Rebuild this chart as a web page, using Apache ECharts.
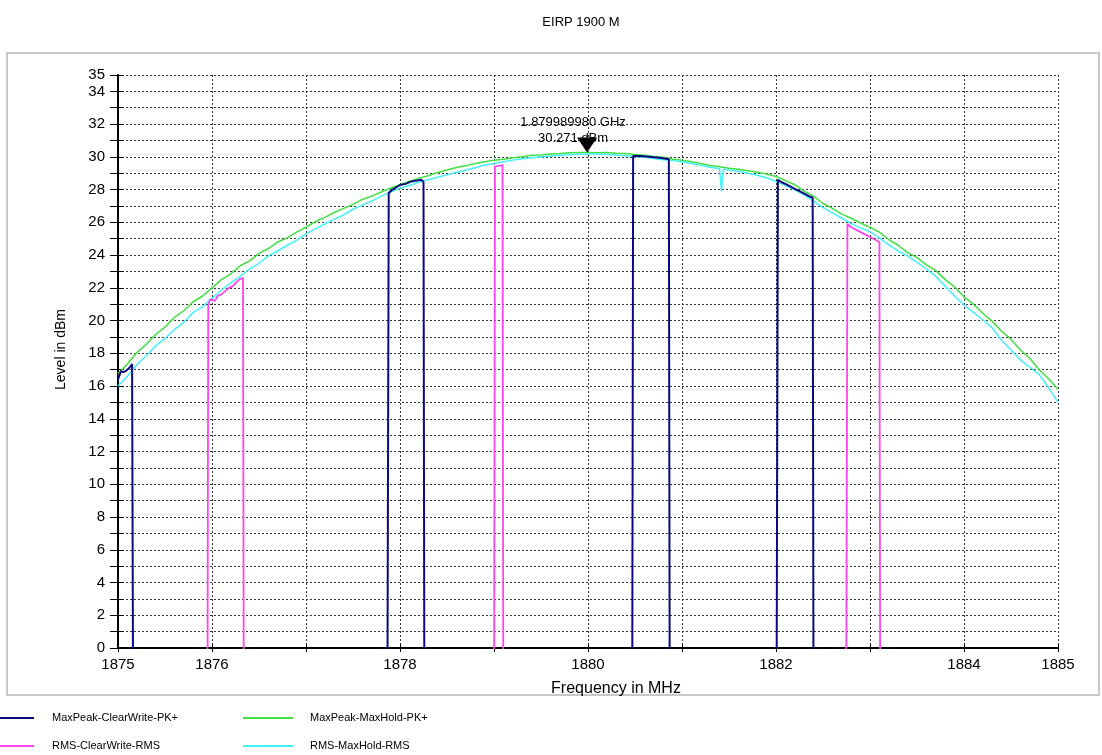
<!DOCTYPE html>
<html>
<head>
<meta charset="utf-8">
<script src="https://cdn.jsdelivr.net/npm/echarts@6/dist/echarts.min.js"></script>
<style>
html,body{margin:0;padding:0;background:#fff;}
#chart{width:1102px;height:755px;}
</style>
</head>
<body>
<div id="chart"></div>
<script>
// ---------- data ----------
const titleText = 'EIRP 1900 M';
const xTickLabels = [1875, 1876, 1878, 1880, 1882, 1884, 1885];
const yTickLabels = [0, 2, 4, 6, 8, 10, 12, 14, 16, 18, 20, 22, 24, 26, 28, 30, 32, 34, 35];
const seriesNames = ['MaxPeak-ClearWrite-PK+', 'MaxPeak-MaxHold-PK+', 'RMS-ClearWrite-RMS', 'RMS-MaxHold-RMS'];
const markerFreq = 1879.98998;
const markerLevel = 30.271;
const markerLabel = ['1.879989980 GHz', '30.271 dBm'];

// MaxPeak-MaxHold-PK+ [MHz, dBm]
const maxPeakMaxHold = [
 [1875.0,16.75],[1875.1,17.35],[1875.2,18.05],[1875.3,18.55],[1875.4,19.15],[1875.5,19.6],[1875.6,20.2],[1875.7,20.6],[1875.8,21.15],[1875.9,21.5],
 [1876.0,22.0],[1876.1,22.5],[1876.2,22.85],[1876.3,23.35],[1876.4,23.65],[1876.5,24.1],[1876.6,24.4],[1876.7,24.8],[1876.8,25.05],[1876.9,25.4],
 [1877.0,25.7],[1877.1,26.05],[1877.2,26.3],[1877.3,26.6],[1877.4,26.85],[1877.5,27.1],[1877.6,27.4],[1877.7,27.6],[1877.8,27.85],[1877.9,28.1],
 [1878.0,28.3],[1878.1,28.5],[1878.2,28.7],[1878.3,28.85],[1878.4,29.05],[1878.5,29.2],[1878.6,29.35],[1878.7,29.45],[1878.8,29.6],[1878.9,29.7],
 [1879.0,29.8],[1879.1,29.85],[1879.2,29.95],[1879.3,30.0],[1879.4,30.1],[1879.5,30.12],[1879.6,30.18],[1879.7,30.2],[1879.8,30.25],[1879.9,30.26],
 [1880.0,30.27],[1880.1,30.25],[1880.2,30.26],[1880.3,30.22],[1880.4,30.2],[1880.5,30.14],[1880.6,30.1],[1880.7,30.02],[1880.8,29.97],[1880.9,29.86],
 [1881.0,29.8],[1881.1,29.7],[1881.2,29.6],[1881.3,29.47],[1881.4,29.4],[1881.5,29.3],[1881.6,29.24],[1881.7,29.15],[1881.8,29.06],[1881.9,28.95],
 [1882.0,28.8],[1882.1,28.55],[1882.2,28.3],[1882.3,27.9],[1882.4,27.6],[1882.5,27.15],[1882.6,26.85],[1882.7,26.5],[1882.8,26.25],[1882.9,25.95],
 [1883.0,25.7],[1883.1,25.4],[1883.2,24.95],[1883.3,24.6],[1883.4,24.15],[1883.5,23.85],[1883.6,23.4],[1883.7,23.05],[1883.8,22.5],[1883.9,22.05],
 [1884.0,21.45],[1884.1,21.0],[1884.2,20.45],[1884.3,19.95],[1884.4,19.35],[1884.5,18.85],[1884.6,18.2],[1884.7,17.7],[1884.8,17.0],[1884.9,16.45],
 [1885.0,15.8]
];

// RMS-MaxHold-RMS [MHz, dBm]
const rmsMaxHold = [
 [1875.0,16.0],[1875.1,16.6],[1875.2,17.3],[1875.3,17.85],[1875.4,18.45],[1875.5,18.9],[1875.6,19.45],[1875.7,19.9],[1875.8,20.5],[1875.9,20.85],
 [1876.0,21.36],[1876.1,21.85],[1876.2,22.3],[1876.3,22.7],[1876.4,23.15],[1876.5,23.5],[1876.6,23.95],[1876.7,24.25],[1876.8,24.6],[1876.9,24.9],
 [1877.0,25.3],[1877.1,25.6],[1877.2,25.9],[1877.3,26.2],[1877.4,26.45],[1877.5,26.8],[1877.6,27.05],[1877.7,27.3],[1877.8,27.6],[1877.9,27.85],
 [1878.0,28.08],[1878.1,28.25],[1878.2,28.45],[1878.3,28.6],[1878.4,28.75],[1878.5,28.9],[1878.6,29.05],[1878.7,29.2],[1878.8,29.33],[1878.9,29.5],
 [1879.0,29.6],[1879.1,29.7],[1879.2,29.8],[1879.3,29.88],[1879.4,29.95],[1879.5,30.0],[1879.6,30.05],[1879.7,30.1],[1879.8,30.13],[1879.9,30.16],
 [1880.0,30.18],[1880.1,30.17],[1880.2,30.15],[1880.3,30.12],[1880.4,30.07],[1880.5,30.02],[1880.6,29.97],[1880.7,29.9],[1880.8,29.83],[1880.9,29.77],
 [1881.0,29.7],[1881.1,29.6],[1881.2,29.48],[1881.3,29.36],[1881.4,29.28],[1881.42,27.9],[1881.44,29.25],[1881.5,29.2],[1881.6,29.12],[1881.7,29.0],[1881.8,28.88],[1881.9,28.72],
 [1882.0,28.5],[1882.1,28.25],[1882.2,27.98],[1882.3,27.68],[1882.4,27.3],[1882.5,26.9],[1882.6,26.58],[1882.7,26.25],[1882.8,25.92],[1882.9,25.65],
 [1883.0,25.43],[1883.1,25.05],[1883.2,24.62],[1883.3,24.25],[1883.4,23.95],[1883.5,23.55],[1883.6,23.15],[1883.7,22.7],[1883.8,22.1],[1883.9,21.5],
 [1884.0,20.95],[1884.1,20.5],[1884.2,20.05],[1884.3,19.55],[1884.4,18.8],[1884.5,18.2],[1884.6,17.6],[1884.7,17.15],[1884.8,16.7],[1884.9,15.9],
 [1885.0,15.0]
];

// MaxPeak-ClearWrite-PK+ (far below the axis between bursts)
const maxPeakClearWrite = [
 [1875.0,16.4],[1875.03,16.9],[1875.06,16.85],[1875.09,16.95],[1875.12,17.1],[1875.15,17.35],[1875.16,17.3],[1875.18,-40],
 [1877.85,-40],[1877.88,27.8],[1877.92,28.0],[1878.0,28.28],[1878.06,28.35],[1878.12,28.5],[1878.18,28.55],[1878.23,28.6],[1878.25,28.45],[1878.27,-40],
 [1880.46,-40],[1880.48,30.05],[1880.55,30.05],[1880.62,30.02],[1880.7,29.98],[1880.78,29.93],[1880.86,29.85],[1880.88,-40],
 [1881.99,-40],[1882.02,28.6],[1882.06,28.45],[1882.1,28.35],[1882.15,28.2],[1882.2,28.05],[1882.25,27.9],[1882.3,27.75],[1882.35,27.6],[1882.39,27.5],[1882.41,-40],
 [1885.0,-40]
];

// RMS-ClearWrite-RMS (far below the axis between bursts)
const rmsClearWrite = [
 [1875.0,-40],[1875.94,-40],[1875.96,20.9],[1875.98,21.3],[1876.0,21.4],[1876.03,21.2],[1876.06,21.5],[1876.1,21.6],[1876.14,21.8],[1876.18,22.0],[1876.22,22.1],[1876.26,22.35],[1876.3,22.55],[1876.33,22.6],[1876.35,-40],
 [1878.99,-40],[1879.01,29.4],[1879.05,29.45],[1879.09,29.5],[1879.11,-40],
 [1882.73,-40],[1882.76,25.9],[1882.8,25.7],[1882.85,25.55],[1882.9,25.4],[1882.95,25.25],[1883.0,25.1],[1883.05,24.95],[1883.1,24.8],[1883.12,-40],
 [1885.0,-40]
];

// ---------- chart ----------
const FONT = "'Liberation Sans', Arial, sans-serif";
const colors = {navy:'#0a0a80', green:'#40e040', magenta:'#ff44f0', cyan:'#44f0ff'};
const dotted = {type:[2,2], color:'#333', width:1};

const chart = echarts.init(document.getElementById('chart'), null, {renderer:'canvas'});
const legendBase = {orient:'vertical', top:711, itemWidth:50, itemHeight:2, itemGap:14, icon:'rect',
  selectedMode:false, padding:0, height:60};
const option = {
  animation:false,
  backgroundColor:'#fff',
  textStyle:{fontFamily:FONT},
  title:{text:titleText, left:576, top:11, textAlign:'center',
    textStyle:{fontSize:13, fontWeight:'normal', color:'#000', fontFamily:FONT}},
  graphic:[{type:'rect', z:-1, silent:true, shape:{x:7, y:53, width:1092, height:642},
    style:{fill:'none', stroke:'#c8c8c8', lineWidth:2}}],
  grid:{left:118, right:44, top:75, bottom:107, containLabel:false},
  legend:[
    Object.assign({}, legendBase, {data:[seriesNames[0], seriesNames[2]], left:-16,
     textStyle:{fontSize:11, color:'#000', lineHeight:14, padding:[0,0,0,13], fontFamily:FONT}}),
    Object.assign({}, legendBase, {data:[seriesNames[1], seriesNames[3]], left:243,
     textStyle:{fontSize:11, color:'#000', lineHeight:14, padding:[0,0,0,12], fontFamily:FONT}})
  ],
  xAxis:[
    {type:'value', min:1875, max:1885, interval:1,
     name:'Frequency in MHz', nameLocation:'middle', nameGap:33,
     nameTextStyle:{fontSize:16, color:'#000', padding:[0,0,0,56], fontFamily:FONT},
     axisLine:{show:true, onZero:false, lineStyle:{color:'#000', width:2}},
     axisTick:{show:true, length:4, lineStyle:{color:'#000', width:1}},
     axisLabel:{fontSize:15, color:'#000', margin:9, fontFamily:FONT,
       formatter:v => xTickLabels.indexOf(v) >= 0 ? String(v) : ''},
     splitLine:{show:true, lineStyle:dotted}},
    {type:'value', min:1875, max:1885, interval:1, position:'bottom',
     axisLine:{show:false, onZero:false}, axisTick:{show:true, inside:true, length:4, lineStyle:{color:'#000'}},
     axisLabel:{show:false}, splitLine:{show:false}}
  ],
  yAxis:[
    {type:'value', min:0, max:35, interval:1,
     name:'Level in dBm', nameLocation:'middle', nameGap:50,
     nameTextStyle:{fontSize:14, color:'#000', padding:[0,0,0,24],
       fontFamily:"'Liberation Sans Narrow', 'Liberation Sans', Arial, sans-serif"},
     axisLine:{show:true, onZero:false, lineStyle:{color:'#000', width:2}},
     axisTick:{show:true, length:8, lineStyle:{color:'#000', width:1}},
     axisLabel:{fontSize:15, color:'#000', margin:13, fontFamily:FONT,
       formatter:v => yTickLabels.indexOf(v) >= 0 ? String(v) : ''},
     splitLine:{show:true, lineStyle:dotted}},
    {type:'value', min:0, max:35, interval:1, position:'left',
     axisLine:{show:false, onZero:false}, axisTick:{show:true, inside:true, length:6, lineStyle:{color:'#000'}},
     axisLabel:{show:false}, splitLine:{show:false}}
  ],
  series:[
    {name:seriesNames[1], type:'line', data:maxPeakMaxHold, showSymbol:false, symbol:'none',
     lineStyle:{color:colors.green, width:1.5}, itemStyle:{color:colors.green}, z:2,
     markPoint:{symbol:'triangle', symbolSize:[20,15], symbolRotate:180, symbolOffset:[0,'-50%'],
       itemStyle:{color:'#000'}, silent:true,
       label:{show:true, position:'top', distance:-9, offset:[-14,0], color:'#000', fontSize:13,
         lineHeight:16, fontFamily:FONT, formatter:markerLabel.join('\n')},
       data:[{coord:[markerFreq, markerLevel]}]}},
    {name:seriesNames[3], type:'line', data:rmsMaxHold, showSymbol:false, symbol:'none',
     lineStyle:{color:colors.cyan, width:1.5}, itemStyle:{color:colors.cyan}, z:3},
    {name:seriesNames[2], type:'line', data:rmsClearWrite, showSymbol:false, symbol:'none', clip:true,
     lineStyle:{color:colors.magenta, width:1.8}, itemStyle:{color:colors.magenta}, z:4},
    {name:seriesNames[0], type:'line', data:maxPeakClearWrite, showSymbol:false, symbol:'none', clip:true,
     lineStyle:{color:colors.navy, width:2}, itemStyle:{color:colors.navy}, z:5}
  ]
};
chart.setOption(option);
</script>
</body>
</html>
